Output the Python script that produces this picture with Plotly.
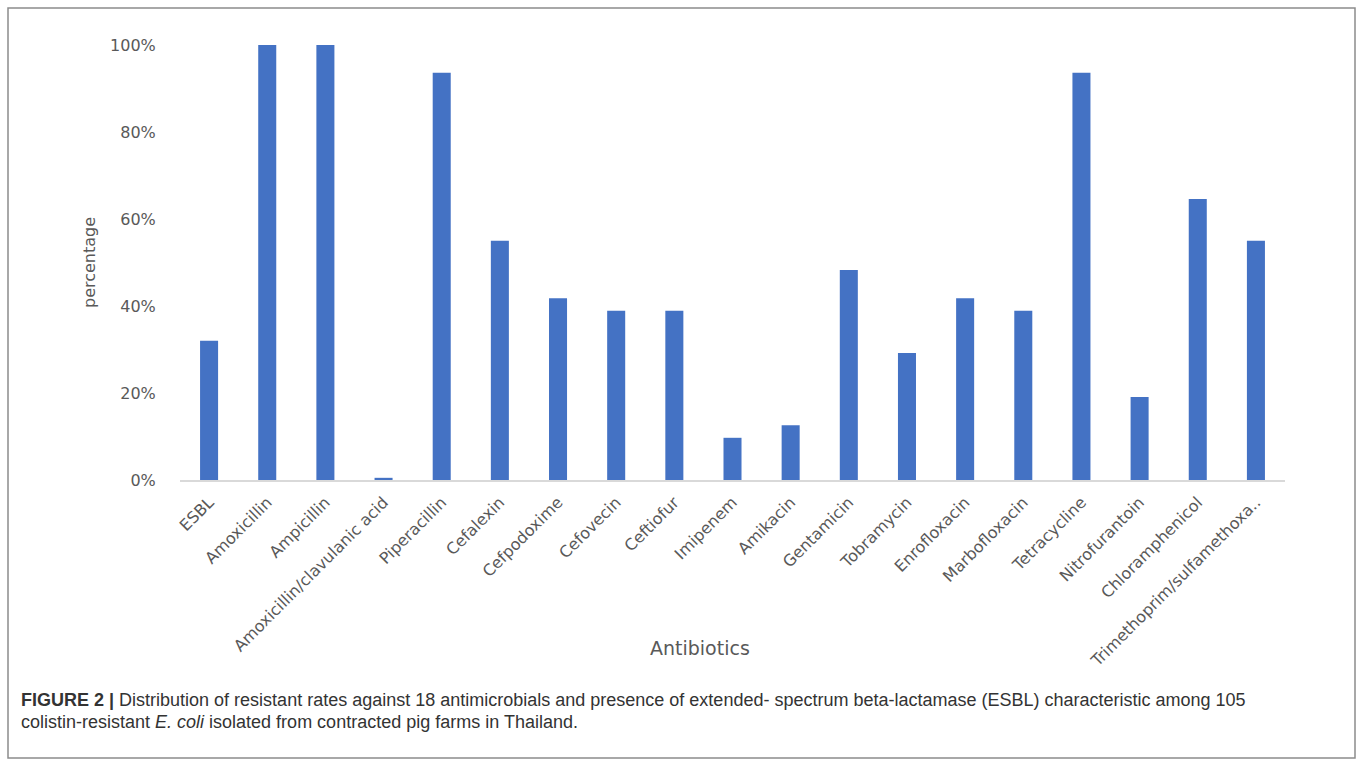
import plotly.graph_objects as go

W, H = 1362, 766

antibiotics = ["ESBL", "Amoxicillin", "Ampicillin", "Amoxicillin/clavulanic acid",
               "Piperacillin", "Cefalexin", "Cefpodoxime", "Cefovecin", "Ceftiofur",
               "Imipenem", "Amikacin", "Gentamicin", "Tobramycin", "Enrofloxacin",
               "Marbofloxacin", "Tetracycline", "Nitrofurantoin", "Chloramphenicol",
               "Trimethoprim/sulfamethoxa.."]
percentage = [32.0, 100.0, 100.0, 0.5, 93.6, 55.0, 41.8, 38.9, 38.9,
              9.7, 12.6, 48.3, 29.2, 41.8, 38.9, 93.6, 19.1, 64.6, 55.0]
y_tick_vals = [0, 20, 40, 60, 80, 100]
y_tick_text = ["0%", "20%", "40%", "60%", "80%", "100%"]

fig = go.Figure(go.Bar(x=antibiotics, y=percentage, marker_color="#4472C4",
                       marker_line_width=0, width=0.31))

px_x = lambda p: p / W
px_y = lambda p: 1 - p / H

AX_FONT = "DejaVu Sans, Verdana, sans-serif"
tick_font = dict(family=AX_FONT, size=16, color="#595959")
fig.update_layout(
    width=W, height=H, margin=dict(l=0, r=0, t=0, b=0, autoexpand=False),
    paper_bgcolor="white", plot_bgcolor="white", showlegend=False,
    xaxis=dict(domain=[px_x(180), px_x(1285)], range=[-0.5, 18.5], tickangle=-45,
               tickfont=tick_font, showline=True, linecolor="#d9d9d9", linewidth=1.5,
               showgrid=False, ticks="outside", ticklen=5, tickcolor="rgba(0,0,0,0)",
               automargin=False, fixedrange=True),
    yaxis=dict(domain=[px_y(480), px_y(45)], range=[0, 100], tickmode="array",
               tickvals=y_tick_vals, ticktext=y_tick_text, tickfont=tick_font,
               showgrid=False, zeroline=False, automargin=False, fixedrange=True,
               ticks="outside", ticklen=20, tickcolor="rgba(0,0,0,0)"),
    font=dict(family=AX_FONT),
)

fig.add_annotation(text="percentage", xref="paper", yref="paper", x=px_x(89), y=px_y(262),
                   xanchor="center", yanchor="middle", textangle=-90, showarrow=False,
                   font=dict(size=16, color="#595959", family=AX_FONT))
fig.add_annotation(text="Antibiotics", xref="paper", yref="paper", x=px_x(700), y=px_y(648),
                   xanchor="center", yanchor="middle", showarrow=False,
                   font=dict(size=19, color="#595959", family=AX_FONT))

cap_font = dict(family="Liberation Sans, Arial, Helvetica, sans-serif",
                size=18, color="#333333")
fig.add_annotation(text="<b>FIGURE 2 |</b> Distribution of resistant rates against 18 antimicrobials and presence of extended- spectrum beta-lactamase (ESBL) characteristic among 105",
                   xref="paper", yref="paper", x=px_x(19), y=px_y(700), xanchor="left",
                   yanchor="middle", showarrow=False, font=cap_font)
fig.add_annotation(text="colistin-resistant <i>E. coli</i> isolated from contracted pig farms in Thailand.",
                   xref="paper", yref="paper", x=px_x(19), y=px_y(722), xanchor="left",
                   yanchor="middle", showarrow=False, font=cap_font)

fig.add_shape(type="rect", xref="paper", yref="paper", x0=px_x(8), x1=px_x(1355),
              y0=px_y(758), y1=px_y(8), line=dict(color="#8c8c8c", width=1.5))

fig.write_html("out.html", config={"displayModeBar": False},
               post_script="document.body.style.margin='0';document.body.style.overflow='hidden';")
